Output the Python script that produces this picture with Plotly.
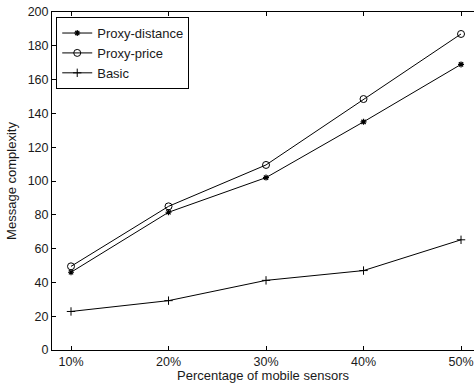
import plotly.graph_objects as go

# Percentage of mobile sensors (x positions) and their tick labels
pct = [10, 20, 30, 40, 50]
pct_labels = ["10%", "20%", "30%", "40%", "50%"]

# Message complexity per scheme
proxy_distance = [46, 81.5, 102, 135, 169]
proxy_price = [49.5, 85, 109.5, 148.5, 187]
basic = [22.8, 29.2, 41.2, 47, 65.2]

FONT = "Liberation Sans, Arial, Helvetica, sans-serif"
INK = "#1a1a1a"

fig = go.Figure()
fig.add_trace(go.Scatter(
    x=pct, y=proxy_distance, name="Proxy-distance", mode="lines+markers",
    line=dict(color="black", width=1),
    marker=dict(symbol="asterisk-open", size=5, color="black",
                line=dict(color="black", width=1.2)),
))
fig.add_trace(go.Scatter(
    x=pct, y=proxy_price, name="Proxy-price", mode="lines+markers",
    line=dict(color="black", width=1),
    marker=dict(symbol="circle-open", size=7, color="black",
                line=dict(color="black", width=1)),
))
fig.add_trace(go.Scatter(
    x=pct, y=basic, name="Basic", mode="lines+markers",
    line=dict(color="black", width=1),
    marker=dict(symbol="cross-thin-open", size=6, color="black",
                line=dict(color="black", width=1)),
))

fig.update_layout(
    width=474, height=383,
    margin=dict(l=52, r=0, t=12, b=33),
    paper_bgcolor="white", plot_bgcolor="white",
    font=dict(family=FONT, size=13, color=INK),
    showlegend=True,
    legend=dict(
        x=0.01, y=0.985, xanchor="left", yanchor="top",
        bgcolor="white", bordercolor="black", borderwidth=1,
        font=dict(family=FONT, size=13, color=INK),
        tracegroupgap=0, itemwidth=30,
    ),
)
fig.update_xaxes(
    range=[8.05, 51.33],
    tickmode="array", tickvals=pct, ticktext=pct_labels,
    tickfont=dict(family=FONT, size=12.5, color=INK),
    ticks="inside", ticklen=4, tickcolor="black",
    showline=True, linecolor="black", linewidth=1, mirror="ticks",
    showgrid=False, zeroline=False,
    title=dict(text="Percentage of mobile sensors", standoff=0,
               font=dict(family=FONT, size=13, color=INK)),
)
fig.update_yaxes(
    range=[0, 200], tick0=0, dtick=20,
    tickfont=dict(family=FONT, size=12.5, color=INK),
    ticks="inside", ticklen=4, tickcolor="black",
    showline=True, linecolor="black", linewidth=1,
    showgrid=False, zeroline=False,
    title=dict(text="Message complexity", standoff=8,
               font=dict(family=FONT, size=13, color=INK)),
)

fig.write_html("out.html")
